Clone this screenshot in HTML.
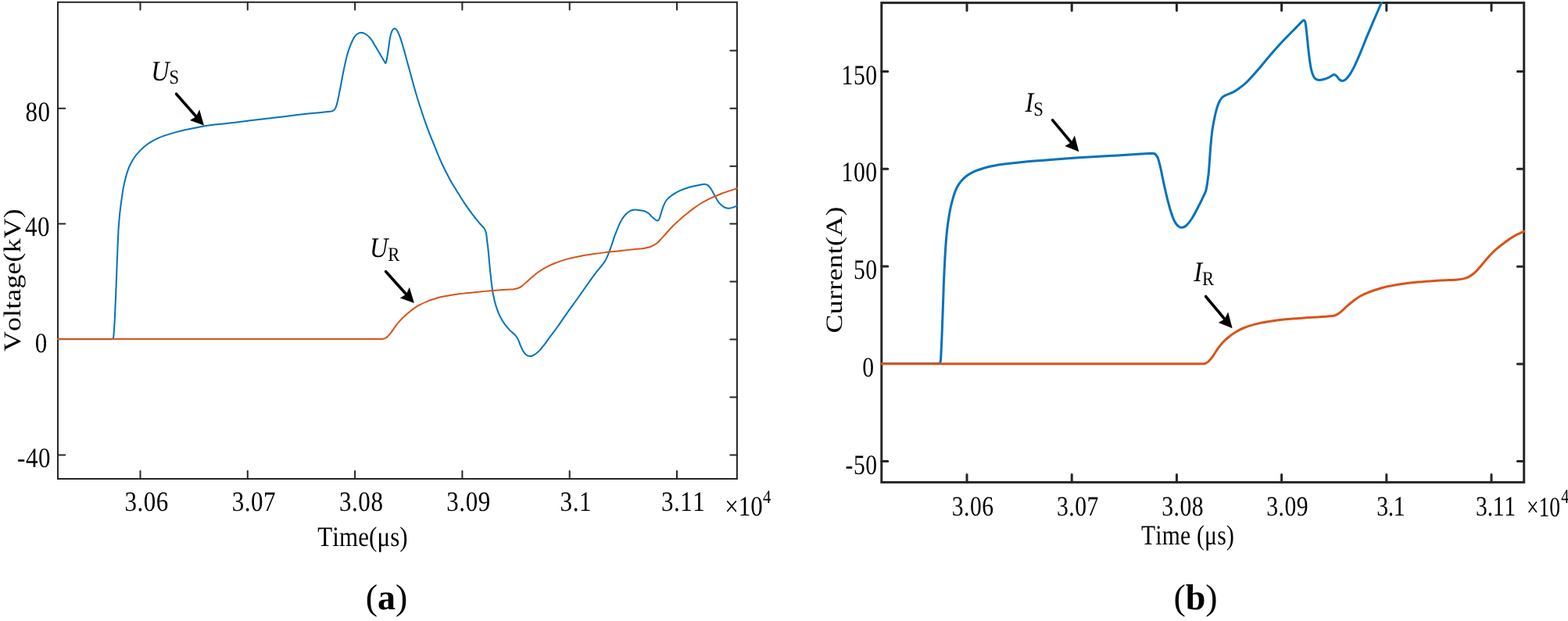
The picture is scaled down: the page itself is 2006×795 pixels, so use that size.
<!DOCTYPE html>
<html lang="en"><head><meta charset="utf-8"><title>Voltage and current waveforms</title>
<style>html,body{margin:0;padding:0;background:#fff}body{width:2006px;height:795px;overflow:hidden}svg{display:block}text{font-family:"Liberation Serif","DejaVu Serif",serif;fill:#000;font-kerning:none;text-rendering:geometricPrecision}</style></head><body>
<svg width="2006" height="795" viewBox="0 0 2006 795">
<rect x="0" y="0" width="2006" height="795" fill="#fff"/>
<clipPath id="clipa"><rect x="73.0" y="1.8" width="870.9" height="611.2"/></clipPath>
<rect x="74.0" y="2.8" width="868.9" height="610.2" fill="none" stroke="#262626" stroke-width="2.0"/>
<path d="M179.5,613.0v-10.0M179.5,2.8v9.8M316.8,613.0v-10.0M316.8,2.8v9.8M454.1,613.0v-10.0M454.1,2.8v9.8M591.4,613.0v-10.0M591.4,2.8v9.8M728.7,613.0v-10.0M728.7,2.8v9.8M866.0,613.0v-10.0M866.0,2.8v9.8M74.0,138.7h9.3M74.0,286.5h9.3M74.0,582.4h9.3M942.9,64.8h-8.6M942.9,138.7h-8.6M942.9,212.7h-8.6M942.9,286.6h-8.6M942.9,360.5h-8.6M942.9,434.4h-8.6M942.9,508.4h-8.6M942.9,582.4h-8.6" fill="none" stroke="#262626" stroke-width="2.0" stroke-linecap="round"/>
<g clip-path="url(#clipa)" fill="none" stroke-linejoin="round" stroke-width="2.0">
<path d="M73.0,434.3C88.7,434.3 104.3,434.3 120.0,434.3C127.0,434.3 134.0,434.4 141.0,434.3C141.9,434.3 142.8,434.3 143.6,434.1C144.0,434.0 144.4,433.7 144.6,433.3C144.9,432.8 145.1,432.2 145.2,431.6C145.4,430.6 145.4,429.5 145.5,428.5C146.0,421.9 146.5,415.4 146.8,408.8C147.5,393.8 148.1,378.9 148.7,363.9C149.3,348.9 149.8,334.0 150.4,319.0C150.8,310.3 151.1,301.5 151.6,292.8C152.0,286.8 152.5,280.9 153.1,274.9C153.7,268.9 154.5,262.9 155.3,256.9C156.1,251.4 156.8,245.9 157.8,240.4C158.8,235.4 159.9,230.3 161.3,225.4C162.6,220.9 164.0,216.3 166.0,212.0C167.9,207.8 170.3,203.8 173.0,200.0C175.2,196.9 177.8,194.3 180.5,191.6C182.8,189.3 185.2,187.2 187.7,185.3C190.1,183.5 192.7,181.9 195.3,180.4C197.7,179.0 200.2,177.8 202.8,176.6C205.3,175.5 207.8,174.5 210.4,173.6C215.4,172.0 220.4,170.5 225.5,169.1C230.5,167.7 235.5,166.5 240.6,165.4C245.6,164.3 250.6,163.3 255.7,162.4C260.7,161.5 265.7,160.7 270.8,160.1C277.2,159.3 283.6,158.8 290.0,158.0C300.1,156.8 310.1,155.5 320.2,154.3C330.3,153.1 340.3,152.0 350.4,150.8C360.5,149.6 370.5,148.2 380.6,147.0C390.7,145.9 400.7,144.9 410.8,143.9C414.8,143.5 418.8,143.2 422.8,142.7C423.8,142.6 424.9,142.4 425.8,141.9C426.7,141.4 427.5,140.8 428.1,140.0C428.7,139.2 429.2,138.3 429.6,137.4C430.2,135.9 430.7,134.4 431.1,132.8C431.7,130.6 432.2,128.3 432.7,126.0C433.3,123.3 433.8,120.7 434.3,118.0C434.9,114.9 435.5,111.8 436.1,108.7C437.4,102.1 438.5,95.5 439.9,88.9C441.0,83.4 442.2,77.9 443.6,72.4C444.7,68.3 445.9,64.3 447.4,60.4C448.7,56.8 450.1,53.2 451.9,49.9C453.1,47.7 454.4,45.5 456.3,44.0C457.9,42.7 460.0,41.7 462.0,41.7C464.2,41.7 466.4,42.8 468.3,44.0C470.6,45.5 472.6,47.5 474.3,49.6C476.6,52.6 478.3,56.0 480.3,59.2C482.3,62.6 484.3,66.0 486.3,69.4C487.8,72.0 489.3,74.5 490.8,77.1C491.4,78.1 491.9,79.1 492.5,80.0C492.7,80.3 492.8,81.0 493.2,80.9C493.7,80.8 493.8,80.1 493.9,79.6C494.4,78.1 494.7,76.6 495.0,75.0C495.7,71.1 496.2,67.3 496.8,63.4C497.6,58.4 498.0,53.4 499.0,48.4C499.5,45.6 500.1,42.8 501.3,40.2C502.0,38.7 503.1,36.8 504.7,36.6C506.2,36.4 507.4,38.2 508.2,39.5C509.9,42.2 511.0,45.3 512.1,48.4C513.9,53.3 515.2,58.4 516.7,63.4C518.3,68.9 519.7,74.4 521.2,79.9C522.7,85.4 524.2,90.8 525.7,96.3C527.2,101.8 528.6,107.3 530.2,112.8C531.6,117.8 533.1,122.8 534.6,127.8C535.6,131.1 536.7,134.3 537.8,137.5C539.6,143.0 541.3,148.5 543.2,153.9C545.1,159.4 547.1,164.9 549.2,170.4C551.3,175.9 553.7,181.3 555.9,186.8C558.1,192.3 560.3,197.8 562.6,203.3C564.3,207.2 566.1,211.1 568.0,215.0C570.5,220.0 573.0,225.0 575.7,229.9C578.5,235.0 581.6,239.9 584.6,244.9C587.7,249.9 590.8,255.0 594.1,259.9C597.5,265.0 601.1,270.0 604.8,274.9C607.7,278.7 610.7,282.4 613.8,286.1C615.7,288.4 618.2,290.3 619.8,292.8C621.0,294.6 621.5,296.7 622.0,298.8C622.7,301.8 622.7,304.9 623.1,308.0C623.5,311.3 624.1,314.7 624.4,318.0C625.2,326.0 625.8,333.9 626.6,341.9C627.3,348.9 628.0,355.9 628.9,362.9C629.5,367.9 630.1,372.9 631.1,377.8C632.0,382.4 633.1,387.1 634.5,391.6C635.8,395.7 637.2,399.7 639.0,403.6C640.8,407.4 642.9,411.0 645.3,414.4C647.5,417.6 650.1,420.6 652.8,423.4C654.6,425.3 657.0,426.7 658.8,428.7C660.2,430.3 661.5,432.0 662.5,433.9C663.8,436.3 664.5,438.9 665.5,441.4C666.5,443.7 667.3,446.0 668.5,448.1C669.6,450.0 670.7,452.0 672.3,453.4C673.8,454.7 675.6,455.8 677.5,456.0C679.3,456.2 681.2,455.5 682.8,454.6C685.1,453.4 687.2,451.7 689.0,449.9C691.9,447.0 694.4,443.8 696.9,440.6C699.6,437.2 701.9,433.6 704.5,430.1C707.5,426.0 710.6,422.1 713.5,418.0C717.6,412.3 721.4,406.4 725.5,400.6C730.4,393.7 735.5,386.9 740.4,380.0C746.9,370.8 753.2,361.5 759.9,352.4C764.1,346.8 768.8,341.6 772.9,335.9C774.3,334.0 775.3,332.0 776.3,329.9C777.4,327.5 778.4,325.0 779.3,322.5C780.6,319.0 781.9,315.5 783.1,312.0C784.1,309.1 784.9,306.2 785.9,303.3C787.6,298.8 789.3,294.2 791.2,289.8C792.5,286.7 794.0,283.7 795.7,280.8C796.9,278.7 798.3,276.7 800.0,275.0C801.9,273.0 803.9,271.0 806.3,269.8C808.2,268.8 810.5,268.6 812.6,268.5C814.7,268.4 816.8,268.9 818.9,269.2C821.2,269.6 823.6,269.8 825.8,270.7C827.4,271.3 828.9,272.5 830.2,273.6C832.0,275.1 833.4,277.1 835.2,278.6C837.0,280.1 838.7,281.9 840.9,282.4C841.9,282.6 842.9,281.4 843.4,280.5C844.4,278.6 844.6,276.3 845.3,274.2C846.4,270.8 847.3,267.4 848.6,264.1C849.8,261.3 850.9,258.4 852.8,256.0C854.9,253.4 857.7,251.3 860.4,249.4C863.2,247.5 866.1,245.8 869.2,244.4C873.2,242.6 877.4,241.1 881.7,239.8C885.8,238.6 890.1,237.9 894.3,237.0C896.6,236.5 898.9,235.7 901.2,235.7C902.7,235.7 904.3,236.2 905.6,237.1C907.2,238.2 908.3,239.9 909.4,241.5C911.3,244.3 912.7,247.4 914.4,250.3C916.1,253.2 917.4,256.4 919.5,259.1C921.3,261.3 923.4,263.3 925.8,264.8C927.6,265.9 929.8,266.6 932.0,266.7C934.1,266.8 936.3,266.1 938.3,265.4C940.6,264.6 942.8,263.4 945.0,262.4" stroke="#0072BD"/>
<path d="M73.0,434.0C148.7,434.0 224.3,434.0 300.0,434.0C360.0,434.0 420.0,434.0 480.0,434.0C482.0,434.0 484.0,434.0 486.0,434.0C486.9,434.0 487.7,434.0 488.6,434.0C489.3,434.0 489.9,433.9 490.6,433.8C491.3,433.6 492.0,433.4 492.6,433.1C493.5,432.6 494.4,432.2 495.1,431.5C496.7,430.0 498.2,428.3 499.6,426.6C501.5,424.3 503.0,421.7 504.8,419.3C506.7,416.7 508.6,414.0 510.8,411.6C513.1,409.0 515.7,406.5 518.3,404.1C520.7,401.9 523.1,399.7 525.7,397.7C528.6,395.5 531.5,393.2 534.7,391.4C538.5,389.2 542.6,387.5 546.7,385.8C549.6,384.6 552.5,383.7 555.5,382.8C558.5,381.8 561.6,380.7 564.7,380.1C572.1,378.6 579.6,377.3 587.1,376.3C594.6,375.3 602.1,374.6 609.6,373.9C616.6,373.2 623.5,372.6 630.5,372.0C636.9,371.5 643.4,371.1 649.8,370.7C652.3,370.5 654.8,370.5 657.3,370.2C659.3,369.9 661.4,369.5 663.3,368.8C664.9,368.2 666.4,367.2 667.8,366.1C669.9,364.5 671.8,362.6 673.8,360.9C675.8,359.1 677.8,357.3 679.8,355.6C682.7,353.1 685.6,350.5 688.7,348.3C692.0,345.9 695.6,343.8 699.2,341.9C702.6,340.1 706.1,338.4 709.7,337.0C714.6,335.1 719.6,333.4 724.7,331.9C729.6,330.5 734.6,329.4 739.6,328.4C744.6,327.4 749.6,326.4 754.6,325.7C762.8,324.5 771.1,323.6 779.3,322.6C786.0,321.8 792.8,321.2 799.5,320.5C804.5,319.9 809.5,319.2 814.5,318.7C817.5,318.4 820.5,318.4 823.5,318.0C825.5,317.7 827.5,317.4 829.5,316.8C831.5,316.2 833.5,315.4 835.4,314.4C837.5,313.3 839.6,312.0 841.5,310.4C843.2,309.0 844.5,307.2 846.0,305.6C847.5,303.9 849.1,302.3 850.6,300.6C853.1,297.8 855.5,294.9 858.1,292.2C860.5,289.6 863.1,287.2 865.7,284.8C868.2,282.5 870.6,280.2 873.2,278.0C875.7,275.9 878.3,274.0 880.8,272.0C883.3,270.0 885.7,268.0 888.3,266.1C890.7,264.3 893.2,262.6 895.8,261.0C898.3,259.5 900.8,258.1 903.4,256.7C905.6,255.5 907.8,254.4 910.0,253.4C915.2,251.1 920.4,248.8 925.8,246.8C932.1,244.5 938.6,242.7 945.0,240.6" stroke="#D95319"/>
</g>
<text transform="translate(64.5,155.1) scale(1,1.155)" font-size="31.0" text-anchor="end" letter-spacing="0.55">80</text>
<text transform="translate(64.0,302.2) scale(1,1.155)" font-size="31.0" text-anchor="end" letter-spacing="0.55">40</text>
<text transform="translate(60.9,451.1) scale(1,1.155)" font-size="31.0" text-anchor="end" letter-spacing="0.55">0</text>
<text transform="translate(65.0,598.2) scale(1,1.155)" font-size="31.0" text-anchor="end" letter-spacing="0.55">-40</text>
<text transform="translate(187.6,654.4) scale(1,1.155)" font-size="31.0" text-anchor="middle" letter-spacing="0.55">3.06</text>
<text transform="translate(324.9,654.4) scale(1,1.155)" font-size="31.0" text-anchor="middle" letter-spacing="0.55">3.07</text>
<text transform="translate(462.2,654.4) scale(1,1.155)" font-size="31.0" text-anchor="middle" letter-spacing="0.55">3.08</text>
<text transform="translate(599.5,654.4) scale(1,1.155)" font-size="31.0" text-anchor="middle" letter-spacing="0.55">3.09</text>
<text transform="translate(736.8,654.4) scale(1,1.155)" font-size="31.0" text-anchor="middle" letter-spacing="0.55">3.1</text>
<text transform="translate(874.1,654.4) scale(1,1.155)" font-size="31.0" text-anchor="middle" letter-spacing="0.55">3.11</text>
<text transform="translate(927.3,660.0) scale(1,1.155)" font-size="31.0">×10<tspan dx="0.3" dy="-14.1" font-size="20.8">4</tspan></text>
<text transform="translate(464.0,699.0) scale(1,1.155)" font-size="31.0" text-anchor="middle" letter-spacing="0.10">Time(μs)</text>
<text transform="translate(26.0,358.6) scale(1,1.155) rotate(-90)" font-size="31.0" text-anchor="middle" letter-spacing="0.15">Voltage(kV)</text>
<text transform="translate(494.5,779.8) scale(1,1.000)" font-size="46.0" text-anchor="middle">(<tspan font-weight="bold">a</tspan>)</text>
<text transform="translate(193.2,102.6) scale(1,1.120)" font-size="32.3"><tspan font-style="italic">U</tspan><tspan dx="0.0" dy="4.2" font-size="22.6">S</tspan></text>
<g transform="scale(1,1.130)"><line x1="225.60" y1="106.55" x2="250.86" y2="131.99" stroke="#000" stroke-width="3.40" stroke-linecap="round"/><path d="M261.00,142.21 L242.92,136.21 L250.86,131.99 L255.13,124.09 Z" fill="#000"/></g>
<text transform="translate(472.9,329.4) scale(1,1.120)" font-size="32.3"><tspan font-style="italic">U</tspan><tspan dx="0.0" dy="4.2" font-size="22.6">R</tspan></text>
<g transform="scale(1,1.130)"><line x1="493.60" y1="307.70" x2="519.64" y2="333.35" stroke="#000" stroke-width="3.40" stroke-linecap="round"/><path d="M529.90,343.45 L511.75,337.65 L519.64,333.35 L523.82,325.40 Z" fill="#000"/></g>
<clipPath id="clipb"><rect x="1126.3" y="2.1" width="824.9" height="615.3"/></clipPath>
<rect x="1127.8" y="3.6" width="821.9" height="613.8" fill="none" stroke="#262626" stroke-width="3.0"/>
<path d="M1237.0,617.4v-9.9M1237.0,3.6v10.0M1371.2,617.4v-9.9M1371.2,3.6v10.0M1505.4,617.4v-9.9M1505.4,3.6v10.0M1639.6,617.4v-9.9M1639.6,3.6v10.0M1773.8,617.4v-9.9M1773.8,3.6v10.0M1908.0,617.4v-9.9M1908.0,3.6v10.0M1127.8,91.4h8.0M1127.8,216.2h8.0M1127.8,341.0h8.0M1127.8,590.5h8.0M1949.7,91.5h-8.3M1949.7,216.3h-8.3M1949.7,341.2h-8.3M1949.7,465.9h-8.3M1949.7,590.6h-8.3" fill="none" stroke="#262626" stroke-width="3.0" stroke-linecap="round"/>
<g clip-path="url(#clipb)" fill="none" stroke-linejoin="round" stroke-width="3.0">
<path d="M1126.0,465.4C1144.0,465.4 1162.0,465.4 1180.0,465.4C1186.5,465.4 1193.0,465.5 1199.5,465.4C1200.3,465.4 1201.1,465.3 1201.8,465.0C1202.3,464.8 1202.7,464.3 1202.9,463.8C1203.2,463.2 1203.3,462.5 1203.4,461.8C1203.6,460.5 1203.6,459.3 1203.7,458.0C1204.2,448.6 1204.6,439.3 1205.0,429.9C1205.4,419.9 1205.7,409.9 1206.1,399.9C1206.4,391.6 1206.7,383.3 1207.0,375.0C1207.2,369.1 1207.3,363.2 1207.6,357.3C1207.9,349.8 1208.3,342.4 1208.7,334.9C1209.1,327.9 1209.4,320.9 1209.9,313.9C1210.4,306.9 1211.0,299.9 1211.8,292.9C1212.5,286.9 1213.4,281.0 1214.4,275.0C1215.0,271.3 1215.7,267.6 1216.5,264.0C1216.9,261.9 1217.5,259.9 1218.1,257.8C1219.1,254.4 1219.9,250.9 1221.1,247.6C1222.2,244.6 1223.3,241.6 1224.9,238.8C1226.6,235.9 1228.5,233.1 1230.8,230.6C1233.0,228.2 1235.6,226.0 1238.3,224.1C1241.1,222.2 1244.2,220.6 1247.3,219.2C1250.7,217.7 1254.2,216.6 1257.8,215.5C1261.8,214.3 1265.8,213.3 1269.8,212.5C1274.7,211.5 1279.7,210.7 1284.7,210.1C1294.7,208.8 1304.7,207.7 1314.7,206.7C1324.7,205.8 1334.6,205.1 1344.6,204.4C1356.6,203.5 1368.5,202.6 1380.5,201.8C1393.5,201.0 1406.5,200.3 1419.5,199.6C1425.5,199.3 1431.4,199.0 1437.4,198.6C1444.9,198.1 1452.5,197.6 1460.0,197.1C1464.5,196.8 1468.9,196.4 1473.4,196.2C1474.4,196.2 1475.4,196.2 1476.3,196.5C1477.2,196.8 1478.0,197.3 1478.6,198.0C1479.7,199.3 1480.8,200.8 1481.4,202.5C1482.8,206.4 1483.7,210.4 1484.6,214.4C1486.2,221.4 1487.5,228.4 1489.0,235.4C1490.4,241.9 1491.9,248.4 1493.5,254.9C1494.9,260.4 1496.3,265.9 1498.0,271.3C1499.3,275.4 1500.6,279.5 1502.6,283.3C1503.8,285.6 1505.4,287.9 1507.4,289.6C1508.6,290.6 1510.2,291.4 1511.7,291.3C1513.7,291.2 1515.8,290.3 1517.3,289.0C1520.1,286.6 1522.3,283.6 1524.3,280.5C1527.1,276.3 1529.4,271.8 1531.7,267.3C1534.3,262.3 1536.8,257.3 1539.2,252.2C1540.5,249.6 1541.8,247.0 1542.7,244.2C1543.6,241.3 1543.9,238.4 1544.4,235.4C1545.1,230.9 1545.7,226.4 1546.2,221.9C1546.8,216.3 1547.1,210.6 1547.5,205.0C1547.9,199.1 1548.3,193.2 1548.8,187.3C1549.5,179.8 1550.1,172.3 1551.2,164.9C1552.2,158.3 1553.5,151.8 1555.0,145.4C1556.1,140.8 1557.3,136.2 1559.1,131.9C1560.2,129.3 1561.7,126.8 1563.6,124.8C1565.0,123.3 1567.0,122.4 1568.9,121.5C1571.8,120.1 1574.9,119.3 1577.8,117.8C1580.3,116.5 1582.7,114.9 1585.0,113.2C1588.4,110.7 1591.9,108.3 1594.9,105.3C1600.2,100.1 1605.0,94.4 1609.9,88.8C1615.0,82.9 1619.8,76.7 1624.9,70.8C1629.8,65.1 1634.7,59.6 1639.8,54.1C1644.7,48.9 1649.8,43.8 1654.8,38.7C1656.8,36.6 1658.8,34.6 1660.8,32.5C1662.4,30.9 1663.9,29.2 1665.6,27.7C1666.3,27.0 1667.0,25.8 1668.0,25.8C1668.8,25.8 1669.3,26.9 1669.6,27.6C1670.2,29.0 1670.3,30.5 1670.5,32.0C1671.1,36.3 1671.5,40.6 1672.0,44.9C1672.8,52.4 1673.4,59.9 1674.3,67.4C1674.9,72.9 1675.6,78.4 1676.5,83.8C1677.1,87.3 1677.8,90.9 1679.0,94.3C1679.8,96.6 1680.8,98.9 1682.5,100.6C1683.6,101.8 1685.4,102.4 1687.0,102.5C1689.3,102.7 1691.5,102.1 1693.7,101.5C1696.3,100.8 1698.8,99.6 1701.2,98.5C1703.2,97.6 1704.7,95.6 1706.9,95.4C1708.2,95.3 1709.3,96.7 1710.2,97.6C1711.4,98.7 1712.0,100.4 1713.2,101.5C1714.3,102.4 1715.5,103.5 1716.9,103.6C1718.5,103.7 1720.2,102.8 1721.4,101.8C1723.6,99.9 1725.4,97.5 1727.0,95.1C1729.4,91.5 1731.3,87.7 1733.2,83.8C1735.9,78.2 1738.4,72.4 1740.8,66.6C1743.4,60.4 1745.7,54.1 1748.3,47.9C1751.2,40.9 1754.2,33.9 1757.2,26.9C1759.1,22.4 1761.1,18.0 1763.0,13.5C1764.9,9.2 1766.7,4.8 1768.6,0.5" stroke="#0072BD"/>
<path d="M1126.0,465.8C1217.3,465.8 1308.7,465.8 1400.0,465.8C1443.3,465.8 1486.7,465.8 1530.0,465.8C1532.0,465.8 1534.0,465.8 1536.0,465.8C1536.9,465.8 1537.9,465.9 1538.8,465.8C1539.5,465.8 1540.3,465.7 1541.0,465.5C1541.8,465.3 1542.5,465.1 1543.2,464.7C1544.1,464.2 1545.1,463.7 1545.8,463.0C1548.0,460.8 1550.0,458.3 1551.8,455.8C1554.0,452.8 1555.7,449.6 1557.8,446.6C1559.7,443.9 1561.6,441.3 1563.8,438.9C1566.1,436.4 1568.7,434.1 1571.3,432.0C1574.1,429.7 1577.1,427.4 1580.2,425.5C1583.6,423.4 1587.0,421.5 1590.7,420.0C1595.6,418.0 1600.6,416.4 1605.7,415.1C1611.1,413.7 1616.7,412.6 1622.2,411.7C1629.6,410.5 1637.1,409.5 1644.6,408.8C1654.6,407.8 1664.6,407.3 1674.6,406.6C1684.6,405.9 1694.6,405.7 1704.5,404.6C1706.6,404.4 1708.6,403.6 1710.5,402.6C1712.5,401.6 1714.3,400.1 1716.0,398.7C1718.3,396.8 1720.3,394.6 1722.5,392.6C1725.9,389.6 1729.3,386.7 1732.9,384.0C1735.2,382.3 1737.5,380.6 1740.0,379.2C1742.6,377.7 1745.3,376.5 1748.0,375.4C1751.9,373.8 1755.9,372.3 1759.9,371.0C1764.8,369.4 1769.8,367.9 1774.9,366.8C1782.3,365.2 1789.8,364.0 1797.3,363.0C1804.8,362.0 1812.3,361.4 1819.8,360.7C1827.3,360.0 1834.7,359.5 1842.2,359.0C1849.7,358.5 1857.2,358.4 1864.7,357.9C1867.2,357.7 1869.8,357.5 1872.2,356.9C1874.8,356.2 1877.3,355.4 1879.6,354.1C1882.3,352.6 1884.8,350.8 1887.1,348.7C1889.9,346.2 1892.2,343.2 1894.6,340.4C1897.7,336.9 1900.5,333.2 1903.6,329.7C1906.5,326.5 1909.4,323.3 1912.6,320.4C1916.4,316.9 1920.5,313.8 1924.6,310.7C1928.4,307.8 1932.3,305.0 1936.5,302.6C1941.5,299.8 1946.8,297.7 1952.0,295.2" stroke="#D95319"/>
</g>
<text transform="translate(1122.5,107.5) scale(1,1.210)" font-size="29.6" text-anchor="end" letter-spacing="0.50">150</text>
<text transform="translate(1122.5,232.1) scale(1,1.210)" font-size="29.6" text-anchor="end" letter-spacing="0.50">100</text>
<text transform="translate(1122.5,357.1) scale(1,1.210)" font-size="29.6" text-anchor="end" letter-spacing="0.50">50</text>
<text transform="translate(1118.5,482.2) scale(1,1.210)" font-size="29.6" text-anchor="end" letter-spacing="0.50">0</text>
<text transform="translate(1122.5,606.6) scale(1,1.210)" font-size="29.6" text-anchor="end" letter-spacing="0.50">-50</text>
<text transform="translate(1244.7,659.6) scale(1,1.210)" font-size="29.6" text-anchor="middle" letter-spacing="0.50">3.06</text>
<text transform="translate(1378.9,659.6) scale(1,1.210)" font-size="29.6" text-anchor="middle" letter-spacing="0.50">3.07</text>
<text transform="translate(1513.1,659.6) scale(1,1.210)" font-size="29.6" text-anchor="middle" letter-spacing="0.50">3.08</text>
<text transform="translate(1647.2,659.6) scale(1,1.210)" font-size="29.6" text-anchor="middle" letter-spacing="0.50">3.09</text>
<text transform="translate(1779.3,659.6) scale(1,1.210)" font-size="29.6" text-anchor="middle" letter-spacing="-0.25">3.1</text>
<text transform="translate(1913.5,659.6) scale(1,1.210)" font-size="29.6" text-anchor="middle" letter-spacing="-0.25">3.11</text>
<text transform="translate(1953.0,660.6) scale(1,1.298)" font-size="27.6">×10<tspan dx="1.2" dy="-13.0" font-size="20.0">4</tspan></text>
<text transform="translate(1519.5,696.7) scale(1,1.210)" font-size="29.6" text-anchor="middle" letter-spacing="0.25">Time (μs)</text>
<text transform="translate(1077.0,345.4) scale(1,1.210) rotate(-90)" font-size="29.6" text-anchor="middle" letter-spacing="0.25">Current(A)</text>
<text transform="translate(1529.5,779.8) scale(1,1.000)" font-size="46.0" text-anchor="middle">(<tspan font-weight="bold">b</tspan>)</text>
<text transform="translate(1311.5,143.4) scale(1,1.120)" font-size="32.3"><tspan font-style="italic">I</tspan><tspan dx="0.0" dy="4.2" font-size="22.6">S</tspan></text>
<g transform="scale(1,1.130)"><line x1="1346.50" y1="136.11" x2="1370.41" y2="161.39" stroke="#000" stroke-width="3.40" stroke-linecap="round"/><path d="M1380.30,171.86 L1362.37,165.41 L1370.41,161.39 L1374.87,153.60 Z" fill="#000"/></g>
<text transform="translate(1527.3,360.3) scale(1,1.120)" font-size="32.3"><tspan font-style="italic">I</tspan><tspan dx="0.0" dy="4.2" font-size="22.6">R</tspan></text>
<g transform="scale(1,1.130)"><line x1="1542.60" y1="335.93" x2="1566.70" y2="361.40" stroke="#000" stroke-width="3.40" stroke-linecap="round"/><path d="M1576.60,371.86 L1558.67,365.42 L1566.70,361.40 L1571.16,353.60 Z" fill="#000"/></g>
</svg></body></html>
